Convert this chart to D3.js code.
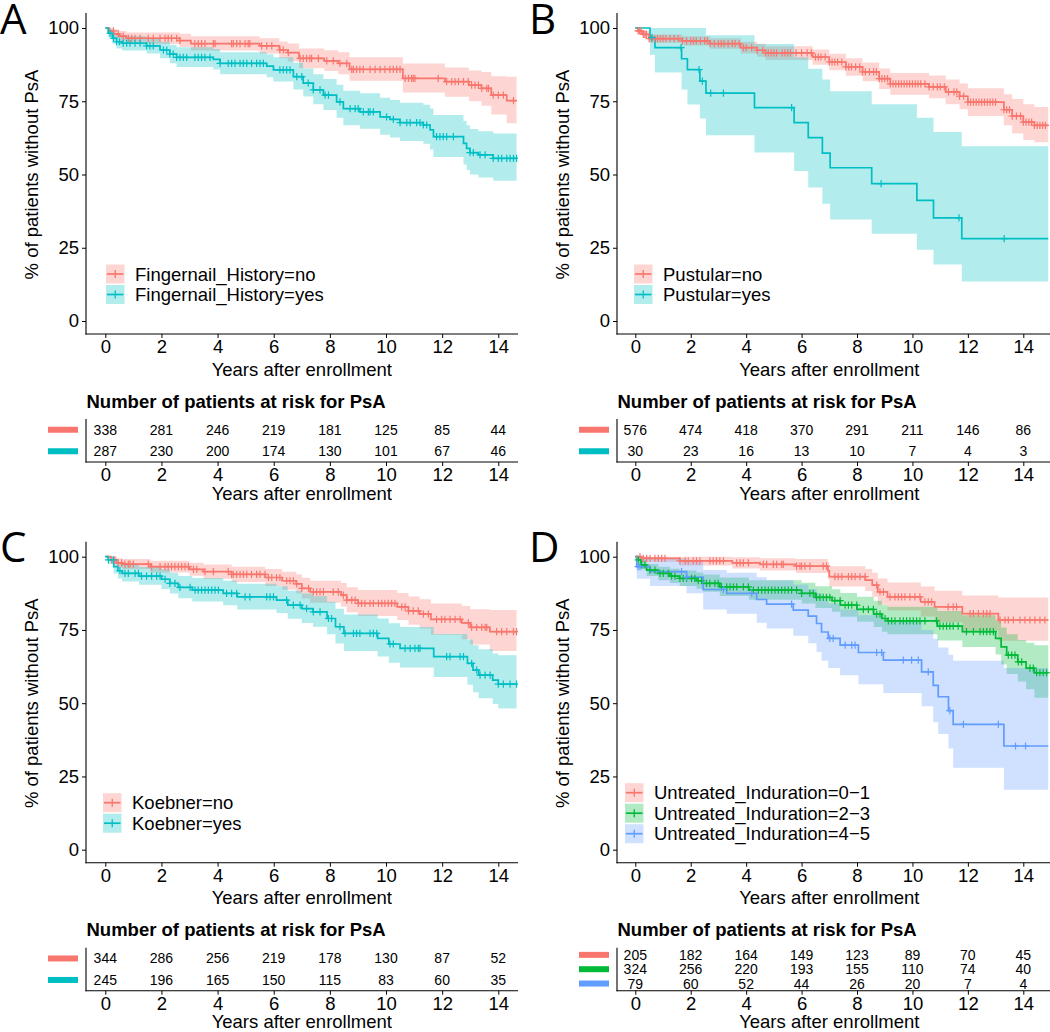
<!DOCTYPE html>
<html>
<head>
<meta charset="utf-8">
<script src="https://cdn.jsdelivr.net/npm/d3@7"></script>
<style>
  body { margin: 0; background: #fff; }
  svg { display: block; }
</style>
</head>
<body>
<script>
// ---- data: KM steps as [time, survival %, lower CI, upper CI] ----
const yearTicks = [0, 2, 4, 6, 8, 10, 12, 14];
const survTicks = [0, 25, 50, 75, 100];

// A: Fingernail_History
const aNoSteps = [[0,100,100,100],[0.15,99,97.8,100],[0.3,98,96.5,99.5],[0.5,97.2,95.5,99],[0.75,96.5,94.5,98.5],[2.65,95.7,93.5,98],[3.05,94.7,92.3,97.2],[5.5,93.9,91.3,96.5],[6.2,92.5,89.7,95.4],[6.5,91.6,88.6,94.7],[6.9,89.6,86.3,93],[7.8,88.8,85.3,92.4],[8.3,87.9,84.2,91.7],[8.7,85.9,82,90],[10.6,82.8,78,87.9],[12.1,81.7,76.5,86.5],[12.95,80.5,75,85.5],[13.4,79.4,73.5,85],[13.75,77.1,70.5,83.5],[14.3,75.2,67.5,83.4]];
const aNoCens = [0.29,0.46,0.64,0.82,0.94,1.06,1.24,1.53,1.71,1.95,2.13,2.24,2.36,2.54,2.66,3.19,3.31,3.43,3.55,3.85,3.91,4.5,4.56,4.68,4.8,4.98,5.09,5.15,5.57,5.75,5.93,6.22,6.34,6.52,6.94,7.05,7.17,7.29,7.35,7.59,7.89,8.12,8.36,8.6,8.78,8.84,8.95,9.07,9.19,9.43,9.61,9.79,9.96,10.14,10.26,10.38,10.5,10.68,10.8,10.91,10.97,11.03,11.86,12.16,12.34,12.46,12.58,12.76,12.93,13.05,13.17,13.29,13.41,13.59,13.65,13.82,14.0,14.18,14.54];
const aYesSteps = [[0,100,100,100],[0.1,98.2,96.8,99.6],[0.25,96.5,94.6,98.5],[0.4,95.3,93,97.6],[0.6,94.8,92.3,97.2],[1.47,93.9,91.3,96.5],[1.95,92.5,89.7,95.3],[2.3,91.1,88,94.3],[2.54,90,86.7,93.4],[3.85,89.3,85.8,92.8],[4.09,87.9,84.2,91.7],[5.75,87,83.2,91],[5.99,85.7,81.7,90],[6.7,83.4,79,88.1],[7.05,81.2,76.6,86.2],[7.41,78.9,74,84.2],[7.77,77.1,72,82.6],[8.24,74.8,69.4,80.6],[8.48,72.5,66.8,78.6],[9.07,71.4,65.6,77.7],[9.79,69.7,63.6,76.2],[10.14,68.8,62.6,75.4],[10.5,67.7,61.4,74.5],[11.33,66.9,60.5,73.8],[11.57,65.2,58.5,72.5],[11.69,62.9,56,70.3],[12.76,60.6,53.4,68.3],[12.87,58.9,51.5,66.8],[12.99,57.5,50,65.5],[13.29,56.7,49,64.8],[13.82,55.5,47.9,64]];
const aYesCens = [0.17,0.29,0.4,0.5,0.64,0.76,0.88,1.06,1.24,1.47,1.59,1.71,2.07,2.19,2.3,2.42,2.54,2.66,2.78,2.9,3.19,3.31,3.43,3.55,3.73,4.09,4.38,4.5,4.62,4.8,4.92,5.04,5.21,5.39,5.51,5.63,6.22,6.34,6.46,6.58,6.82,7.0,7.23,7.41,7.65,7.83,7.95,8.36,8.72,8.9,9.01,9.19,9.37,9.43,9.55,10.02,10.26,10.5,10.74,10.86,11.09,11.21,11.33,11.45,11.8,11.92,12.04,12.16,12.4,12.99,13.11,13.35,13.53,13.82,14.0,14.12,14.3,14.42,14.54,14.65];
const aRiskNo = [338, 281, 246, 219, 181, 125, 85, 44];
const aRiskYes = [287, 230, 200, 174, 130, 101, 67, 46];

// B: Pustular
const bNoSteps = [[0,100,100,100],[0.1,99,98.2,99.8],[0.25,97.8,96.6,99],[0.5,96.4,95,97.8],[1.7,95.6,94,97.2],[2.7,94.7,92.9,96.5],[3.8,93.3,91.3,95.3],[4.4,92.4,90.2,94.6],[4.7,91.5,89.1,93.8],[6.4,90.1,87.5,92.7],[7.0,88.4,85.6,91.2],[7.6,86.7,83.7,89.7],[8.2,85,81.8,88.2],[8.8,82.7,79.2,86.2],[9.2,80.9,77.2,84.6],[10.6,79.9,76,83.8],[11.2,78.2,74,82.4],[11.7,76.7,72.3,81.1],[12.0,74.7,70,79.4],[13.3,72.1,66.8,77.4],[13.6,69.9,64,75.8],[14.0,67.9,61.8,74],[14.4,66.8,61,73]];
const bNoCens = [0.1,0.15,0.2,0.3,0.35,0.4,0.5,0.6,0.7,0.8,0.9,1.0,1.1,1.25,1.4,1.55,1.7,1.85,2.0,2.1,2.2,2.35,2.5,2.6,2.7,2.85,3.0,3.1,3.2,3.35,3.5,3.6,3.75,3.9,4.0,4.2,4.4,4.6,4.7,4.8,4.9,5.0,5.1,5.3,5.4,5.5,5.6,5.8,6.0,6.2,6.35,6.5,6.6,6.7,6.85,7.0,7.1,7.2,7.3,7.45,7.6,7.7,7.8,7.95,8.1,8.2,8.3,8.45,8.6,8.7,8.8,8.9,9.0,9.1,9.2,9.3,9.4,9.5,9.6,9.7,9.8,9.9,10.0,10.1,10.2,10.3,10.45,10.6,10.75,10.9,11.0,11.15,11.3,11.5,11.6,11.7,11.85,12.0,12.1,12.2,12.3,12.4,12.5,12.6,12.7,12.8,12.9,13.0,13.3,13.4,13.5,13.6,13.75,13.9,14.0,14.1,14.2,14.3,14.4,14.5,14.6,14.7,14.8];
const bYesSteps = [[0,100,100,100],[0.53,96.7,90.9,100],[0.71,93.3,84.8,100],[1.67,89.5,79,100],[1.88,85.8,73.9,100],[2.33,81.9,69.1,100],[2.55,77.8,63.4,97.5],[4.3,72.8,57.5,94.5],[5.73,67.7,51.2,90],[6.24,62.6,45.6,86.1],[6.75,57.3,40,82.4],[7.03,52.3,34.6,78.4],[8.53,46.9,29.8,74],[10.16,41.2,24.3,69.4],[10.76,35.2,19.3,64.5],[11.78,28.1,13.5,59.6]];
const bYesCens = [0.6, 1.65, 2.3, 2.42, 2.72, 3.18, 5.64, 8.87, 11.68, 13.31];
const bRiskNo = [576, 474, 418, 370, 291, 211, 146, 86];
const bRiskYes = [30, 23, 16, 13, 10, 7, 4, 3];

// C: Koebner
const cNoSteps = [[0,100,100,100],[0.2,98.9,97.7,100],[0.4,97.9,96.3,99.5],[0.6,97.5,95.8,99.2],[1.6,96.6,94.6,98.6],[3.0,95.7,93.5,97.9],[3.5,94.9,92.5,97.3],[4.5,94,91.4,96.6],[5.7,92.9,90,95.8],[6.3,91.8,88.7,94.9],[6.8,90.7,87.4,94],[7.0,89.2,85.7,92.8],[7.3,88,84.3,91.8],[8.4,86.9,83,91],[8.6,85.2,81,89.6],[9.0,84.1,79.8,88.6],[10.4,82.9,78.4,87.6],[10.8,81.5,76.8,86.4],[11.2,80.4,75.5,85.5],[11.6,78.6,73.4,84],[12.7,77.4,71.8,83.2],[13.0,75.9,70,82.1],[13.7,74.4,67.8,81.8]];
const cNoCens = [0.23,0.34,0.46,0.58,0.7,0.82,0.88,1.0,1.53,1.65,1.95,2.13,2.24,2.36,2.48,2.6,2.72,2.84,2.96,3.14,3.26,3.55,3.85,4.38,4.5,4.56,4.68,4.8,4.92,5.04,5.21,5.39,5.51,5.69,5.81,5.93,6.1,6.22,6.46,6.58,6.7,6.82,7.0,7.24,7.41,7.53,7.65,7.77,8.12,8.3,8.48,8.6,8.78,8.9,9.01,9.13,9.25,9.43,9.55,9.73,9.85,9.96,10.08,10.2,10.32,10.56,10.68,10.8,10.97,11.15,11.33,11.51,11.8,11.98,12.1,12.28,12.46,12.64,12.93,13.05,13.23,13.41,13.53,13.59,13.94,14.12,14.3,14.54,14.65];
const cYesSteps = [[0,100,100,100],[0.1,98.9,97.5,100],[0.3,96.6,94.3,98.9],[0.45,95.2,92.6,97.9],[0.6,94.3,91.5,97.2],[1.2,93.4,90.4,96.5],[2.0,92.3,89,95.7],[2.3,90.9,87.4,94.5],[2.6,89.5,85.8,93.4],[3.1,88.6,84.7,92.7],[4.2,87.5,83.4,91.8],[4.7,86.3,82,90.8],[6.1,85.2,80.8,89.9],[6.5,83.5,78.8,88.4],[7.0,82.3,77.4,87.4],[7.4,81.2,76.1,86.5],[7.9,78.9,73.5,84.6],[8.2,76.1,70.4,82.2],[8.5,73.8,67.8,80.3],[9.7,72.1,65.9,78.9],[10.1,70.2,63.8,77.3],[10.5,68.7,62.2,76],[11.7,65.9,58.9,73.6],[12.9,63.6,56.3,71.7],[13.1,61.3,53.7,69.8],[13.3,59.6,51.7,68.4],[13.8,57.9,49.7,67],[14.0,56.5,48.2,66.4]];
const cYesCens = [0.11,0.29,0.52,0.7,0.82,1.06,1.18,1.29,1.47,1.65,1.83,1.95,2.13,2.3,2.48,2.66,3.02,3.2,3.31,3.43,3.55,3.67,3.79,3.91,4.03,4.32,4.5,4.68,4.98,5.15,5.75,5.87,5.99,6.46,6.7,6.94,7.17,7.41,7.65,7.95,8.06,8.36,8.54,8.84,8.95,9.07,9.43,9.55,9.67,10.14,10.26,10.68,10.86,11.03,11.15,11.21,12.16,12.28,12.64,12.76,13.05,13.23,13.35,13.53,13.71,14.0,14.18,14.42,14.65];
const cRiskNo = [344, 286, 256, 219, 178, 130, 87, 52];
const cRiskYes = [245, 196, 165, 150, 115, 83, 60, 35];

// D: Untreated_Induration
const d01Steps = [[0,100,100,100],[0.2,99.4,98.3,100],[1.6,98.6,97,100],[3.5,97.9,96,99.8],[4.5,97.4,95.3,99.5],[5.8,96.8,94.4,99.2],[6.95,95.2,92.3,98.2],[7.0,93.2,89.8,96.7],[8.3,92,88.3,95.8],[8.55,90.3,86.3,94.5],[8.75,88,83.6,92.6],[9.1,86.3,81.6,91.2],[10.3,84.6,79.6,89.8],[10.8,82.9,77.6,88.4],[11.8,80.6,74.8,86.8],[13.1,78.4,71.3,86.1]];
const d01Cens = [0.17,0.29,0.41,0.53,0.71,0.83,0.95,1.07,1.61,1.8,1.91,2.09,2.21,2.33,2.69,2.81,2.93,3.05,3.18,3.66,3.78,3.9,4.08,4.62,4.74,4.98,5.1,5.28,5.34,5.82,5.94,6.0,6.12,6.3,6.78,6.9,7.2,7.32,7.45,7.69,7.81,7.93,8.11,8.29,8.71,8.83,8.95,9.19,9.37,9.49,9.61,9.73,9.91,10.09,10.27,10.45,10.57,10.69,11.29,11.47,11.59,12.08,12.2,12.38,12.56,12.68,12.8,13.16,13.34,13.46,13.64,13.88,14.06,14.24,14.42,14.6,14.78];
const d23Steps = [[0,100,100,100],[0.1,98.9,97.7,100],[0.2,97.2,95.6,98.8],[0.41,95.4,93.4,97.5],[0.83,94.3,92,96.6],[1.25,93.4,91,95.9],[1.6,92.6,90,95.3],[2.21,91.8,89.1,94.6],[2.45,90.9,88,93.9],[3.05,89.7,86.6,92.9],[4.1,88.6,85.3,92],[6.0,87.5,84,91.1],[6.5,86.1,82.5,89.9],[7.1,85,81.2,88.9],[7.4,83.5,79.5,87.6],[8.0,82,77.8,86.3],[8.6,80.4,76,85],[8.9,78.9,74.4,83.5],[9.1,78.1,73.5,82.9],[10.9,76.3,71.4,81.5],[11.8,74.4,69.2,80],[13.0,72.1,66.6,78.1],[13.2,69.2,63.2,75.8],[13.4,66.4,60,73.5],[13.8,64.1,57.4,71.6],[14.1,62,54.8,70.6],[14.4,60.4,51.9,69.8]];
const d23Cens = [0.11,0.23,0.35,0.53,0.71,0.89,1.01,1.19,1.31,1.43,1.61,1.73,1.85,2.03,2.15,2.27,2.39,2.57,2.69,2.87,2.99,3.11,3.3,3.42,3.54,3.66,3.9,4.08,4.26,4.44,4.56,4.68,4.8,4.92,5.04,5.16,5.28,5.4,5.52,5.64,5.82,6.0,6.3,6.42,6.54,6.66,6.78,6.9,7.02,7.2,7.39,7.57,7.69,7.81,7.99,8.23,8.41,8.59,8.71,8.83,9.01,9.13,9.25,9.37,9.55,9.67,9.79,9.91,10.03,10.15,10.27,10.45,10.87,10.99,11.11,11.23,11.35,11.47,11.65,11.95,12.2,12.44,12.56,12.68,12.8,12.92,13.46,13.58,13.7,13.82,13.94,14.24,14.36,14.48,14.6,14.72,14.84];
const d45Steps = [[0,100,100,100],[0.05,96.6,92.5,100],[0.53,94.9,90,99.5],[1.85,93,87.5,98.5],[2.45,88.8,82,95.5],[3.3,87.5,80.5,94.5],[4.38,85.4,77.5,93],[4.74,83.8,75.5,92],[5.7,81.8,73,90.5],[6.24,79.7,70.5,89],[6.54,77.2,67.5,87.5],[6.72,74.3,64.5,85.5],[6.96,72.1,62,84],[7.39,69.8,59.5,82],[8.05,67.3,56.5,80],[8.95,64.7,53.5,78],[10.33,60.7,49,75],[10.75,56.1,43.5,72],[10.93,52.2,39.5,69],[11.3,47.5,34.5,66.5],[11.47,42.8,28,64.5],[13.3,35.4,20.5,62]];
const d45Cens = [0.1,0.17,1.67,1.85,3.18,4.2,5.64,7.02,7.14,7.57,7.81,7.93,8.71,8.89,9.67,9.97,10.21,10.57,11.35,11.84,13.1,13.72,14.08];
const dRisk01 = [205, 182, 164, 149, 123, 89, 70, 45];
const dRisk23 = [324, 256, 220, 193, 155, 110, 74, 40];
const dRisk45 = [79, 60, 52, 44, 26, 20, 7, 4];

// ---- layout ----
const W = 1050, H = 1032;
const red = "#F8766D", teal = "#00BFC4", green = "#00BA38", blue = "#619CFF";
const FONT = "'Liberation Sans', Arial, Helvetica, sans-serif";
const FS = 18.5;

const cols = [
  { axisX: 86, x0: 105.3, x14: 498.3, right: 518, letterX: 0 },
  { axisX: 617, x0: 635.3, x14: 1023.3, right: 1050, letterX: 529 }
];
const rowsY = [0, 528.7];

const panels = [
  { letter: "A", col: 0, row: 0, end: 14.65, legendX: 106, legendY: 274,
    groups: [
      { name: "Fingernail_History=no", color: red, steps: aNoSteps, cens: aNoCens, risk: aRiskNo },
      { name: "Fingernail_History=yes", color: teal, steps: aYesSteps, cens: aYesCens, risk: aRiskYes }
    ] },
  { letter: "B", col: 1, row: 0, end: 14.9, legendX: 634, legendY: 274,
    groups: [
      { name: "Pustular=no", color: red, steps: bNoSteps, cens: bNoCens, risk: bRiskNo },
      { name: "Pustular=yes", color: teal, steps: bYesSteps, cens: bYesCens, risk: bRiskYes }
    ] },
  { letter: "C", col: 0, row: 1, end: 14.65, legendX: 103, legendY: 274,
    groups: [
      { name: "Koebner=no", color: red, steps: cNoSteps, cens: cNoCens, risk: cRiskNo },
      { name: "Koebner=yes", color: teal, steps: cYesSteps, cens: cYesCens, risk: cRiskYes }
    ] },
  { letter: "D", col: 1, row: 1, end: 14.9, legendX: 625, legendY: 264,
    groups: [
      { name: "Untreated_Induration=0\u22121", color: red, steps: d01Steps, cens: d01Cens, risk: dRisk01 },
      { name: "Untreated_Induration=2\u22123", color: green, steps: d23Steps, cens: d23Cens, risk: dRisk23 },
      { name: "Untreated_Induration=4\u22125", color: blue, steps: d45Steps, cens: d45Cens, risk: dRisk45 }
    ] }
];

const svg = d3.select("body").append("svg")
  .attr("width", W).attr("height", H)
  .attr("font-family", FONT);

function valueAt(steps, t) {
  let v = steps[0][1];
  for (const s of steps) { if (s[0] <= t) v = s[1]; }
  return v;
}

panels.forEach((p) => {
  const c = cols[p.col];
  const oy = rowsY[p.row];
  const g = svg.append("g").attr("transform", `translate(0,${oy})`);

  const x = d3.scaleLinear().domain([0, 14]).range([c.x0, c.x14]);
  const y = d3.scaleLinear().domain([0, 100]).range([321, 28]);

  // panel letter
  svg.append("text")
    .attr("x", c.letterX).attr("y", oy + 33.5)
    .attr("font-family", "'Open Sans', sans-serif")
    .attr("font-size", 42)
    .text(p.letter);

  const clipId = "clip" + p.letter;
  g.append("clipPath").attr("id", clipId)
    .append("rect").attr("x", c.axisX).attr("y", 0).attr("width", c.right - c.axisX).attr("height", 334);

  const plot = g.append("g").attr("clip-path", `url(#${clipId})`);

  const area = d3.area().curve(d3.curveStepAfter)
    .x((d) => x(d[0])).y0((d) => y(d[2])).y1((d) => y(d[3]));
  const line = d3.line().curve(d3.curveStepAfter)
    .x((d) => x(d[0])).y((d) => y(d[1]));

  // confidence bands
  p.groups.forEach((gr) => {
    const last = gr.steps[gr.steps.length - 1];
    const pts = gr.steps.concat([[p.end, last[1], last[2], last[3]]]);
    plot.append("path").attr("d", area(pts))
      .attr("fill", gr.color).attr("fill-opacity", 0.3).attr("stroke", "none");
  });
  // survival lines
  p.groups.forEach((gr) => {
    const last = gr.steps[gr.steps.length - 1];
    const pts = gr.steps.concat([[p.end, last[1], last[2], last[3]]]);
    plot.append("path").attr("d", line(pts))
      .attr("fill", "none").attr("stroke", gr.color).attr("stroke-width", 1.7);
  });
  // censor marks
  p.groups.forEach((gr) => {
    plot.append("g").selectAll("path")
      .data(gr.cens)
      .join("path")
      .attr("d", (t) => {
        const px = x(t), py = y(valueAt(gr.steps, t));
        return `M${px - 3.6},${py}H${px + 3.6}M${px},${py - 3.6}V${py + 3.6}`;
      })
      .attr("stroke", gr.color).attr("stroke-width", 1.2).attr("fill", "none");
  });

  // axes
  g.append("line").attr("x1", c.axisX).attr("x2", c.axisX).attr("y1", 13).attr("y2", 334.5)
    .attr("stroke", "#000").attr("stroke-width", 1.1);
  g.append("line").attr("x1", c.axisX - 0.5).attr("x2", c.right).attr("y1", 334).attr("y2", 334)
    .attr("stroke", "#000").attr("stroke-width", 1.1);

  const yAxis = g.append("g").attr("transform", `translate(${c.axisX},0)`)
    .call(d3.axisLeft(y).tickValues(survTicks).tickSize(4).tickPadding(3));
  yAxis.select(".domain").remove();
  yAxis.selectAll("text").attr("font-size", FS).attr("font-family", FONT).attr("fill", "#000");

  const xAxis = g.append("g").attr("transform", "translate(0,334)")
    .call(d3.axisBottom(x).tickValues(yearTicks).tickSize(4).tickPadding(2));
  xAxis.select(".domain").remove();
  xAxis.selectAll("text").attr("font-size", FS).attr("font-family", FONT).attr("fill", "#000");

  g.append("text")
    .attr("x", x(7)).attr("y", 375.5)
    .attr("text-anchor", "middle").attr("font-size", FS)
    .text("Years after enrollment");

  g.append("text")
    .attr("transform", `translate(${c.axisX - 48.5},${(y(0) + y(100)) / 2}) rotate(-90)`)
    .attr("text-anchor", "middle").attr("font-size", FS)
    .text("% of patients without PsA");

  // legend
  const leg = g.append("g");
  p.groups.forEach((gr, i) => {
    const cy = p.legendY + i * 20.5;
    const kx = p.legendX;
    leg.append("rect").attr("x", kx).attr("y", cy - 9.5).attr("width", 18.5).attr("height", 19)
      .attr("fill", gr.color).attr("fill-opacity", 0.3);
    leg.append("line").attr("x1", kx + 1).attr("x2", kx + 17.5).attr("y1", cy).attr("y2", cy)
      .attr("stroke", gr.color).attr("stroke-width", 1.7);
    leg.append("line").attr("x1", kx + 9.25).attr("x2", kx + 9.25).attr("y1", cy - 4).attr("y2", cy + 4)
      .attr("stroke", gr.color).attr("stroke-width", 1.3);
    leg.append("text").attr("x", kx + 29).attr("y", cy + 6.5)
      .attr("font-size", FS).text(gr.name);
  });

  // risk table
  const tTop = 419, tBot = 462;
  const rowY = d3.scaleBand().domain(p.groups.map((d, i) => i)).range([tTop, tBot]);
  g.append("text")
    .attr("x", c.axisX + 0.5).attr("y", 407.5)
    .attr("font-size", 18.5).attr("font-weight", "bold")
    .text("Number of patients at risk for PsA");
  g.append("line").attr("x1", c.axisX).attr("x2", c.axisX).attr("y1", tTop).attr("y2", tBot + 0.5)
    .attr("stroke", "#000").attr("stroke-width", 1.1);
  g.append("line").attr("x1", c.axisX - 0.5).attr("x2", c.right).attr("y1", tBot).attr("y2", tBot)
    .attr("stroke", "#000").attr("stroke-width", 1.1);

  p.groups.forEach((gr, i) => {
    const cy = rowY(i) + rowY.bandwidth() / 2;
    g.append("line").attr("x1", c.axisX - 38).attr("x2", c.axisX - 8).attr("y1", cy).attr("y2", cy)
      .attr("stroke", gr.color).attr("stroke-width", 6);
    g.append("g").selectAll("text")
      .data(gr.risk)
      .join("text")
      .attr("x", (d, j) => x(yearTicks[j]))
      .attr("y", cy + 5)
      .attr("text-anchor", "middle")
      .attr("font-size", 14)
      .text((d) => d);
  });

  const tAxis = g.append("g").attr("transform", `translate(0,${tBot})`)
    .call(d3.axisBottom(x).tickValues(yearTicks).tickSize(4).tickPadding(2));
  tAxis.select(".domain").remove();
  tAxis.selectAll("text").attr("font-size", FS).attr("font-family", FONT).attr("fill", "#000");

  g.append("text")
    .attr("x", x(7)).attr("y", 499.5)
    .attr("text-anchor", "middle").attr("font-size", FS)
    .text("Years after enrollment");
});
</script>
</body>
</html>
